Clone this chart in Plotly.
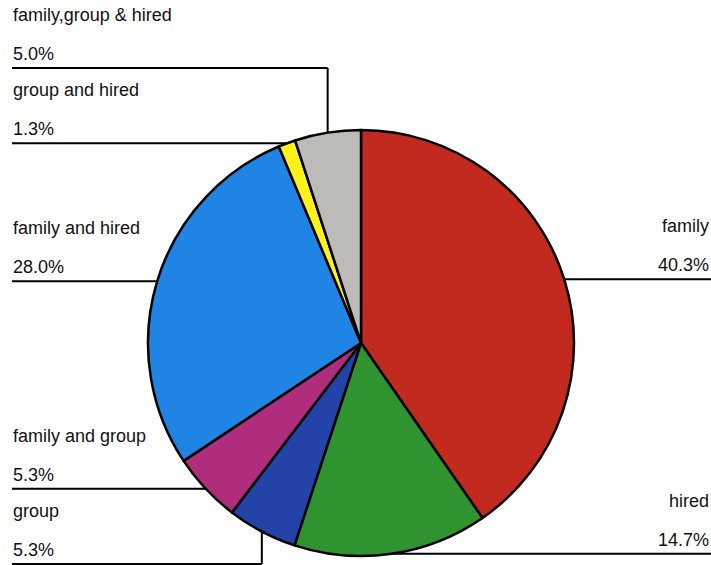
import math
import plotly.graph_objects as go

# Share of households by type of labour used
categories = ["family", "hired", "group", "family and group",
              "family and hired", "group and hired", "family,group & hired"]
shares = [40.3, 14.7, 5.3, 5.3, 28.0, 1.3, 5.0]
colors = ["#C22A20", "#2F932F", "#2443A8", "#B02C7C",
          "#1F84E4", "#FFF21C", "#BDBBB8"]

# Label placement: side of the chart and, for elbowed leaders, the row (px)
label_side = ["right", "right", "left", "left", "left", "left", "left"]
elbow_row = [None, None, 564, None, None, None, 68]

W, H = 711, 565
CX, CY, R = 361, 343, 213
FONT = dict(family="Liberation Sans, Arial, sans-serif", size=18, color="#111111")


def px(x):
    return x / W


def py(y):
    return 1 - y / H


fig = go.Figure(go.Pie(
    labels=categories,
    values=shares,
    sort=False,
    direction="clockwise",
    rotation=0,
    marker=dict(colors=colors, line=dict(color="black", width=2.5)),
    textinfo="none",
    hoverinfo="label+percent",
    showlegend=False,
    domain=dict(x=[px(CX - R), px(CX + R)], y=[py(CY + R), py(CY - R)]),
))

total = sum(shares)
shapes, annotations = [], []
cum = 0.0
for name, val, side, row in zip(categories, shares, label_side, elbow_row):
    mid = (cum + val / 2) / total * 2 * math.pi
    cum += val
    ex = CX + R * math.sin(mid)
    ey = CY - R * math.cos(mid)
    line_y = ey if row is None else row
    line = dict(type="line", xref="paper", yref="paper",
                line=dict(color="black", width=2))
    if row is not None:
        shapes.append(dict(line, x0=px(ex), x1=px(ex), y0=py(ey), y1=py(row)))
    if side == "left":
        x_end, x_text, anchor = 12, 11, "left"
    else:
        x_end, x_text, anchor = W, W, "right"
    shapes.append(dict(line, x0=px(x_end), x1=px(ex), y0=py(line_y), y1=py(line_y)))
    for text, dy in ((name, 53), (f"{val:.1f}%", 14)):
        annotations.append(dict(
            text=text, xref="paper", yref="paper",
            x=px(x_text), y=py(line_y - dy),
            xanchor=anchor, yanchor="middle", showarrow=False, font=FONT))

fig.update_layout(
    width=W, height=H,
    margin=dict(l=0, r=0, t=0, b=0),
    paper_bgcolor="white", plot_bgcolor="white",
    shapes=shapes, annotations=annotations,
)

fig.write_html("out.html")
